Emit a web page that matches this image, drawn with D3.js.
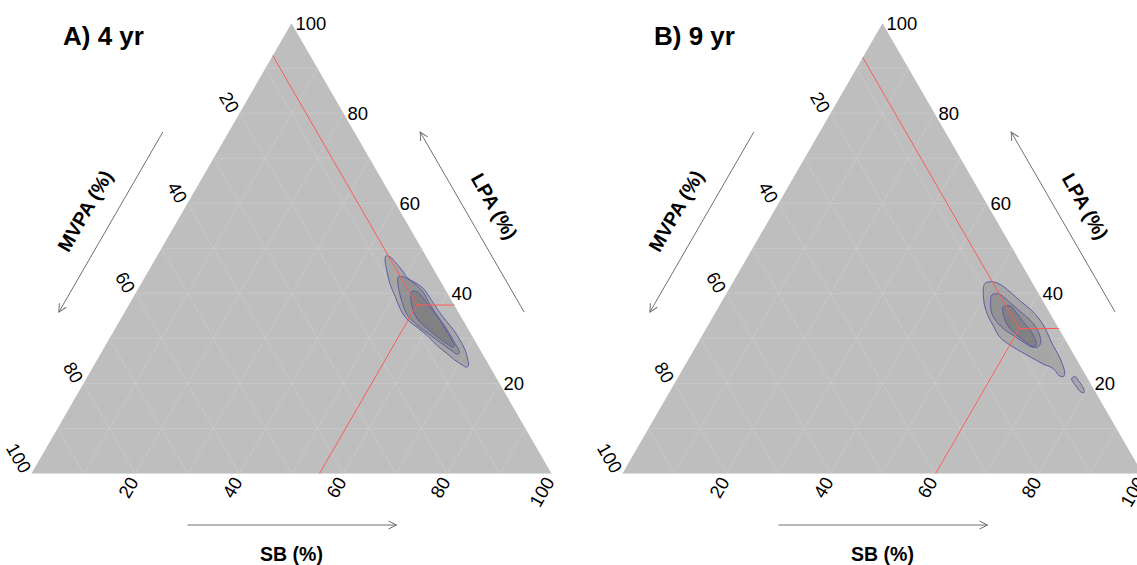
<!DOCTYPE html>
<html>
<head>
<meta charset="utf-8">
<script src="https://cdn.jsdelivr.net/npm/d3@7"></script>
<style>
  body { margin: 0; background: #fff; }
  text { font-family: "Liberation Sans", Arial, sans-serif; }
</style>
</head>
<body>
<div class="wrapper"></div>
<script>
// tick / grid values (%)
const tickValues = [20, 40, 60, 80, 100];
const gridValues = [10, 20, 30, 40, 50, 60, 70, 80, 90];
const panelTitles = ["A) 4 yr", "B) 9 yr"];
const axisNames = ["SB (%)", "LPA (%)", "MVPA (%)"];

// compositional mean [SB, LPA, MVPA]
const mean4yr = [55.4, 37.4, 7.2];
const mean9yr = [60.2, 32.2, 7.6];

// density contours as [SB, LPA] pairs
const outer4yr = [[44.0,48.3],[44.9,48.1],[46.4,47.0],[48.6,45.2],[50.8,43.3],[53.0,42.2],[54.8,41.1],[56.5,39.6],
  [58.4,37.8],[60.8,35.6],[63.0,33.7],[65.2,31.9],[67.6,29.6],[69.7,27.4],[71.3,25.2],[72.0,24.1],[71.9,23.6],
  [70.8,24.1],[68.8,25.2],[66.5,26.7],[64.1,28.2],[61.1,30.4],[58.3,32.2],[55.9,33.7],[54.4,34.8],[52.5,36.7],
  [50.3,39.3],[47.8,42.2],[45.7,45.2],[44.3,47.4]];
const middle4yr = [[48.7,43.6],[49.6,43.7],[51.8,42.6],[53.6,41.5],[55.5,40.0],[57.2,38.2],[59.6,35.9],[62.0,33.7],
  [64.4,31.5],[66.6,29.3],[68.3,27.6],[68.9,26.8],[68.6,26.5],[67.3,27.2],[65.4,28.3],[63.2,29.6],[60.7,31.1],
  [58.5,32.4],[56.6,33.7],[55.1,34.8],[53.3,36.7],[51.6,38.9],[49.8,41.5],[48.9,43.0]];
const inner4yr = [[52.9,40.4],[53.9,40.4],[55.9,38.9],[57.6,37.4],[59.8,35.6],[62.2,33.4],[64.5,31.1],[66.3,29.3],
  [67.2,28.3],[66.9,28.1],[65.5,28.8],[63.6,29.9],[61.7,31.1],[59.4,32.6],[57.3,34.1],[55.8,35.6],[54.4,37.4],
  [53.3,39.3]];

const outer9yr = [[48.6,42.2],[49.7,42.6],[51.6,42.0],[54.4,40.3],[57.5,38.2],[60.6,36.2],[63.0,34.3],[65.2,32.2],
  [66.8,30.4],[68.6,28.4],[70.7,26.3],[72.6,24.1],[73.9,22.3],[74.0,21.5],[73.0,21.8],[71.7,22.9],[70.4,23.7],
  [69.2,24.1],[67.1,25.1],[64.2,26.5],[60.3,28.5],[57.4,30.3],[54.9,32.8],[52.8,35.0],[50.9,37.4],[49.6,39.6],
  [48.8,41.2]];
const blob9yr = [[75.8,21.2],[76.3,21.5],[77.5,20.5],[79.1,19.0],[79.8,18.0],[79.1,18.1],[77.5,19.4],[76.0,20.8]];
const middle9yr = [[51.2,39.6],[52.3,39.9],[54.6,38.6],[57.1,36.9],[60.0,35.0],[62.7,33.0],[64.8,30.8],[65.9,29.1],
  [65.9,28.2],[65.0,28.0],[63.0,28.9],[60.3,30.4],[57.6,31.9],[55.1,33.7],[53.2,35.6],[51.9,37.8]];
const inner9yr = [[54.7,37.0],[55.9,37.2],[58.0,35.6],[60.2,33.7],[62.4,31.9],[64.3,30.0],[65.3,28.5],[64.5,28.3],
  [62.8,29.3],[60.4,30.8],[58.4,32.2],[56.5,34.1],[55.2,35.9]];

var width = 1137, height = 565;
var side = 520, baseY = 473.5, triH = side * Math.sqrt(3) / 2;

var svg = d3.select(".wrapper").append("svg")
    .attr("width", width)
    .attr("height", height);

svg.append("defs").append("marker")
    .attr("id", "arrowhead")
    .attr("markerUnits", "userSpaceOnUse")
    .attr("markerWidth", 12).attr("markerHeight", 12)
    .attr("refX", 9).attr("refY", 5)
    .attr("orient", "auto")
  .append("path")
    .attr("d", "M1,1 L9,5 L1,9")
    .attr("fill", "none")
    .attr("stroke", "#707070")
    .attr("stroke-width", 1);

function drawPanel(x0, title, mean, contours) {
  var g = svg.append("g").attr("transform", "translate(" + x0 + ",0)");

  // ternary -> screen through two linear scales
  var xs = d3.scaleLinear().domain([0, 100]).range([0, side]);
  var ys = d3.scaleLinear().domain([0, 100]).range([baseY, baseY - triH]);
  function proj(sb, lpa) { return [xs(sb + lpa / 2), ys(lpa)]; }

  // background triangle
  g.append("path")
      .attr("d", "M" + [proj(0, 0), proj(100, 0), proj(0, 100)].join("L") + "Z")
      .attr("fill", "#bebebe");

  // grid
  var gridSegs = [];
  gridValues.forEach(function(v) {
    gridSegs.push([proj(0, v), proj(100 - v, v)]);        // const LPA
    gridSegs.push([proj(v, 0), proj(v, 100 - v)]);        // const SB
    gridSegs.push([proj(0, 100 - v), proj(100 - v, 0)]);  // const MVPA
  });
  g.selectAll("line.grid")
      .data(gridSegs)
    .enter().append("line")
      .attr("class", "grid")
      .attr("x1", d => d[0][0]).attr("y1", d => d[0][1])
      .attr("x2", d => d[1][0]).attr("y2", d => d[1][1])
      .attr("stroke", "#cfcfcf")
      .attr("stroke-width", 0.6);
  g.append("line")
      .attr("x1", proj(0, 0)[0]).attr("y1", proj(0, 0)[1])
      .attr("x2", proj(100, 0)[0]).attr("y2", proj(100, 0)[1])
      .attr("stroke", "#dcdcdc").attr("stroke-width", 1);

  // density contours
  var line = d3.line()
      .x(d => proj(d[0], d[1])[0])
      .y(d => proj(d[0], d[1])[1])
      .curve(d3.curveCatmullRomClosed.alpha(0.5));
  g.selectAll("path.contour")
      .data(contours)
    .enter().append("path")
      .attr("class", "contour")
      .attr("d", line)
      .attr("fill", "#303038")
      .attr("fill-opacity", 0.17)
      .attr("stroke", "#5c5ca6")
      .attr("stroke-width", 1);

  // mean composition lines
  var p = proj(mean[0], mean[1]);
  var ends = [proj(0, 100 - mean[2]), proj(mean[0], 0), proj(100 - mean[1], mean[1])];
  g.selectAll("line.mean")
      .data(ends)
    .enter().append("line")
      .attr("class", "mean")
      .attr("x1", p[0]).attr("y1", p[1])
      .attr("x2", d => d[0]).attr("y2", d => d[1])
      .attr("stroke", "#ff5a5a")
      .attr("stroke-width", 1);

  // tick labels
  g.selectAll("text.lpa")
      .data(tickValues)
    .enter().append("text")
      .attr("class", "lpa")
      .attr("x", d => proj(100 - d, d)[0] + 4)
      .attr("y", d => proj(100 - d, d)[1] + 7)
      .attr("font-size", 18.5)
      .text(d => d);
  g.selectAll("text.mvpa")
      .data(tickValues)
    .enter().append("text")
      .attr("class", "mvpa")
      .attr("text-anchor", "end")
      .attr("transform", d => {
        var q = proj(0, 100 - d);
        return "translate(" + (q[0] - 5) + "," + (q[1] - 2) + ") rotate(60)";
      })
      .attr("dy", "0.35em")
      .attr("font-size", 18.5)
      .text(d => d);
  g.selectAll("text.sb")
      .data(tickValues)
    .enter().append("text")
      .attr("class", "sb")
      .attr("text-anchor", "end")
      .attr("transform", d => {
        var q = proj(d, 0);
        return "translate(" + (q[0] - 2) + "," + (q[1] + 5) + ") rotate(-60)";
      })
      .attr("dy", "0.35em")
      .attr("font-size", 18.5)
      .text(d => d);

  // axis arrows
  var nL = [-Math.sqrt(3) / 2, -0.5], nR = [Math.sqrt(3) / 2, -0.5];
  function off(q, n, k) { return [q[0] + n[0] * k, q[1] + n[1] * k]; }
  var arrows = [
    [off(proj(0, 69.5), nL, 57), off(proj(0, 29.5), nL, 57)],
    [off(proj(70.5, 29.5), nR, 57), off(proj(30.5, 69.5), nR, 57)],
    [off(proj(30, 0), [0, 1], 51.5), off(proj(70.2, 0), [0, 1], 51.5)]
  ];
  g.selectAll("line.arrow")
      .data(arrows)
    .enter().append("line")
      .attr("class", "arrow")
      .attr("x1", d => d[0][0]).attr("y1", d => d[0][1])
      .attr("x2", d => d[1][0]).attr("y2", d => d[1][1])
      .attr("stroke", "#707070")
      .attr("stroke-width", 1)
      .attr("marker-end", "url(#arrowhead)");

  // axis titles
  var tM = off(proj(0, 48.9), nL, 85), tR = off(proj(50, 50), nR, 84);
  g.append("text")
      .attr("transform", "translate(" + tM[0] + "," + tM[1] + ") rotate(-60)")
      .attr("text-anchor", "middle").attr("dy", "0.35em")
      .attr("font-size", 19.5).attr("font-weight", "bold")
      .text(axisNames[2]);
  g.append("text")
      .attr("transform", "translate(" + tR[0] + "," + tR[1] + ") rotate(60)")
      .attr("text-anchor", "middle").attr("dy", "0.35em")
      .attr("font-size", 19.5).attr("font-weight", "bold")
      .text(axisNames[1]);
  g.append("text")
      .attr("x", proj(50, 0)[0]).attr("y", 561)
      .attr("text-anchor", "middle")
      .attr("font-size", 19.5).attr("font-weight", "bold")
      .text(axisNames[0]);

  // panel title
  g.append("text")
      .attr("x", 31.5).attr("y", 45)
      .attr("font-size", 26).attr("font-weight", "bold")
      .text(title);
}

drawPanel(31.5, panelTitles[0], mean4yr, [outer4yr, middle4yr, inner4yr]);
drawPanel(622.5, panelTitles[1], mean9yr, [outer9yr, blob9yr, middle9yr, inner9yr]);
</script>
</body>
</html>
